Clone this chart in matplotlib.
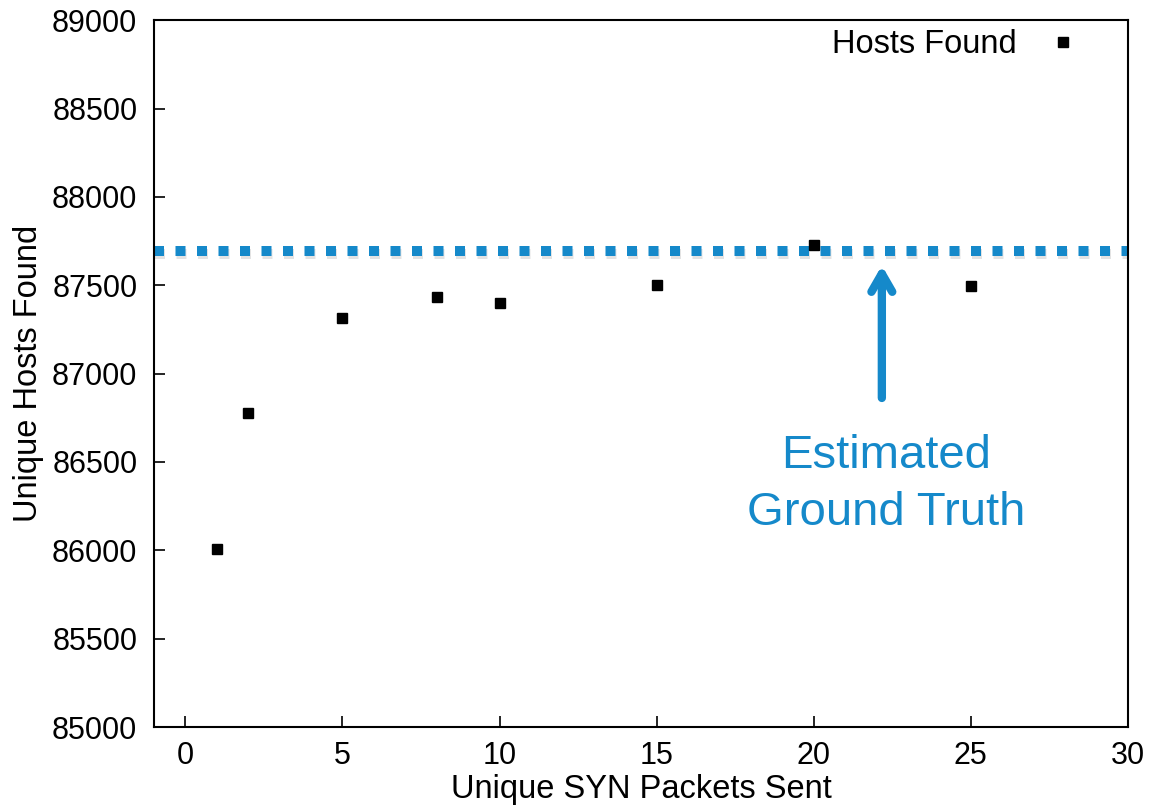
import matplotlib
matplotlib.use("Agg")
import matplotlib.pyplot as plt
import matplotlib.patheffects as pe

plt.rcParams['font.family'] = ['Liberation Sans', 'DejaVu Sans']

# Data
packets_sent = [1, 2, 5, 8, 10, 15, 20, 25]
hosts_found = [86010, 86775, 87312, 87432, 87400, 87500, 87725, 87497]
ground_truth = 87692
series_label = "Hosts Found"
annotation_text = "Estimated\nGround Truth"
x_ticks = [0, 5, 10, 15, 20, 25, 30]
y_ticks = [85000, 85500, 86000, 86500, 87000, 87500, 88000, 88500, 89000]

blue = '#1589CA'

fig = plt.figure(figsize=(11.52, 8.06), dpi=100)
ax = fig.add_axes([0.1337, 0.098, 0.979 - 0.1337, 0.975 - 0.098])

# Ground truth dashed line with soft shadow
ax.axhline(ground_truth, color=blue, linewidth=7.2, dashes=(1.0, 1.15),
           dash_capstyle='butt', zorder=2,
           path_effects=[pe.SimpleLineShadow(offset=(0.5, -2.0), shadow_color='gray', alpha=0.22),
                         pe.Normal()])

ax.plot(packets_sent, hosts_found, linestyle='none', marker='s', markersize=7.5,
        color='black', label=series_label, zorder=3)

# Arrow
ax.annotate('', xy=(22.17, 87612), xytext=(22.17, 86862),
            arrowprops=dict(arrowstyle='->,head_length=1.3,head_width=0.75', color=blue,
                            lw=6, capstyle='round', joinstyle='round',
                            shrinkA=0, shrinkB=0),
            zorder=4)
ax.text(22.32, 86372, annotation_text, color=blue, fontsize=34, ha='center', va='center',
        linespacing=1.36)

ax.set_xlim(-1, 30)
ax.set_ylim(85000, 89000)
ax.set_xticks(x_ticks)
ax.set_yticks(y_ticks)
ax.tick_params(axis='both', direction='in', length=8, width=1.2, labelsize=22, pad=12)
ax.tick_params(axis='x', pad=10)
for s in ax.spines.values():
    s.set_linewidth(1.5)

ax.set_xlabel("Unique SYN Packets Sent", fontsize=23.5)
ax.xaxis.label.set_va('baseline')
ax.xaxis.set_label_coords(0.5, -0.1004)
ax.set_ylabel("Unique Hosts Found", fontsize=23.5, labelpad=6)

ax.legend(loc='upper right', frameon=False, markerfirst=False, fontsize=23.5,
          handletextpad=0.42, borderaxespad=0.2, bbox_to_anchor=(0.987, 1.015))

fig.savefig('out.png', dpi=100)
